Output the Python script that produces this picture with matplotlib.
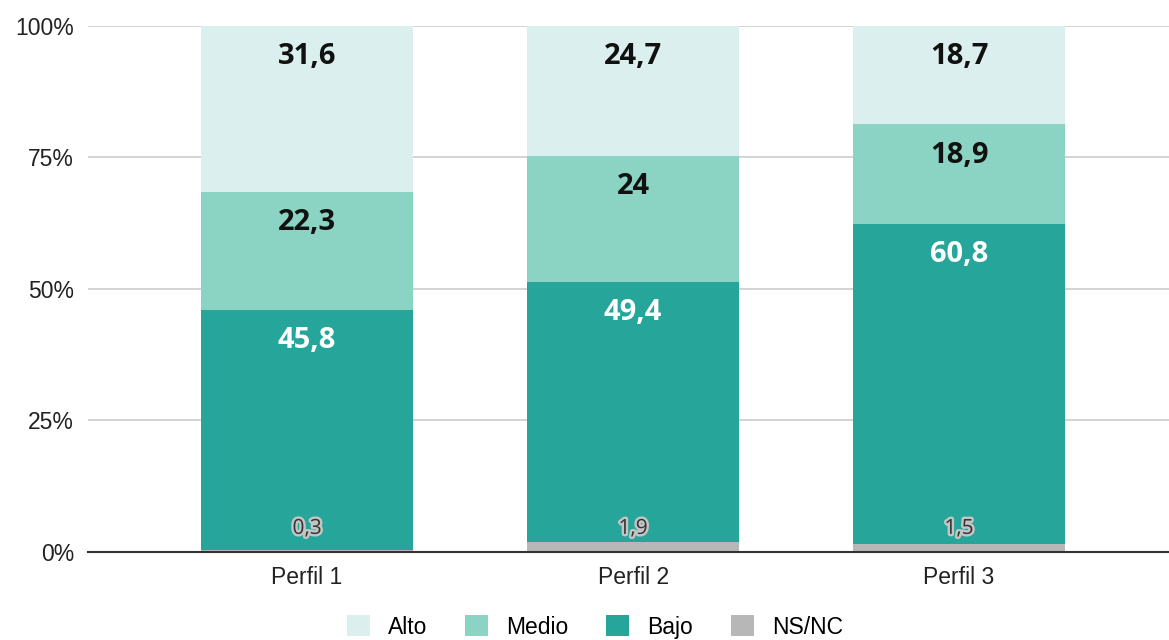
import numpy as np
import matplotlib.pyplot as plt
import matplotlib.patheffects as pe
from matplotlib.ticker import FuncFormatter

categories = ['Perfil 1', 'Perfil 2', 'Perfil 3']
ns_nc = [0.3, 1.9, 1.5]
bajo = [45.8, 49.4, 60.8]
medio = [22.3, 24, 18.9]
alto = [31.6, 24.7, 18.7]

series = [
    ('NS/NC', ns_nc, '#b7b7b7'),
    ('Bajo', bajo, '#26a69a'),
    ('Medio', medio, '#8bd3c3'),
    ('Alto', alto, '#dbf0ee'),
]


def fmt(v):
    return ('%g' % v).replace('.', ',')


plt.rcParams['font.family'] = ['Liberation Sans', 'DejaVu Sans']

fig = plt.figure(figsize=(11.69, 6.4), dpi=100)
ax = fig.add_axes([0.0753, 0.1375, 0.9247, 0.8219])

x = np.arange(len(categories))
totals = np.sum([np.array(s[1], dtype=float) for s in series], axis=0)
bottom = np.zeros(len(categories))
bars = {}
for name, vals, color in series:
    pct = np.array(vals, dtype=float) / totals * 100
    bars[name] = ax.bar(x, pct, 0.65, bottom=bottom, color=color, label=name, zorder=2)
    for i in range(len(categories)):
        if name == 'NS/NC':
            ax.annotate(fmt(vals[i]), (x[i], bottom[i]), xytext=(0, 17), textcoords='offset points',
                        ha='center', va='center', fontsize=15, color='#333333',
                        family='Open Sans',
                        path_effects=[pe.withStroke(linewidth=3.5, foreground='#c4c4c4')], zorder=4)
        else:
            top = bottom[i] + pct[i]
            ax.annotate(fmt(vals[i]), (x[i], top), xytext=(0, -22), textcoords='offset points',
                        ha='center', va='center', fontsize=21, fontweight='bold',
                        family='Open Sans',
                        color='white' if name == 'Bajo' else '#111111', zorder=4)
    bottom = bottom + pct

ax.set_xlim(-0.672, 2.644)
ax.set_ylim(0, 100)
ax.set_yticks([0, 25, 50, 75, 100])
ax.yaxis.set_major_formatter(FuncFormatter(lambda v, p: '%d%%' % v))
ax.set_xticks(x)
ax.set_xticklabels(categories)
ax.grid(axis='y', color='#cccccc', linewidth=1.2, zorder=0)
ax.tick_params(axis='both', length=0, labelsize=16.5, colors='#222222')
ax.tick_params(axis='y', pad=10)
ax.tick_params(axis='x', pad=10)
for s in ['top', 'right', 'left']:
    ax.spines[s].set_visible(False)
ax.spines['bottom'].set_color('#333333')
ax.spines['bottom'].set_linewidth(1.5)
ax.spines['bottom'].set_zorder(3)

handles = [bars['Alto'], bars['Medio'], bars['Bajo'], bars['NS/NC']]
fig.legend(handles, ['Alto', 'Medio', 'Bajo', 'NS/NC'], loc='lower center',
           bbox_to_anchor=(0.509, -0.03), ncol=4, frameon=False, fontsize=16.5,
           handlelength=1.0, handleheight=1.0, handletextpad=0.8, columnspacing=1.65)

fig.savefig('out.png', dpi=100)
